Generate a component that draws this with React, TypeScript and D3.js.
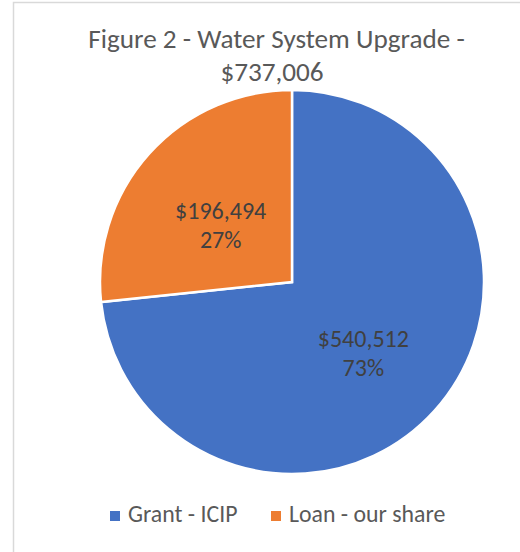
import React from 'react';
import * as d3 from 'd3';

const categories = ['Grant - ICIP', 'Loan - our share'];
const amounts = [540512, 196494];
const percentLabels = ['73%', '27%'];
const colors = ['#4472C4', '#ED7D31'];
const titleLines = ['Figure 2 - Water System Upgrade -', '$737,006'];

const W = 520;
const H = 552;
const cx = 292;
const cy = 282;
const radius = 192;
const font = 'Carlito, Calibri, "Open Sans", sans-serif';

export default function App() {
  const data = categories.map((name, i) => ({ name, value: amounts[i], pct: percentLabels[i], color: colors[i] }));
  const pie = d3.pie<any>().value(d => d.value).sort(null);
  const arcs = pie(data);
  const arc = d3.arc<any>().innerRadius(0).outerRadius(radius);
  const fmt = d3.format('$,');

  const legendX = [110, 271];

  return (
    <svg width={W} height={H} style={{ position: 'absolute', left: 0, top: 0 }} fontFamily={font}>
      <rect x={0} y={0} width={W} height={H} fill="white" />
      <rect x={13.5} y={2.5} width={W + 50} height={H + 50} fill="white" stroke="#d9d9d9" strokeWidth={1.5} />
      <g textAnchor="middle" fill="#595959" fontSize={27.2}>
        <text x={276.5} y={48}>{titleLines[0]}</text>
        <text x={272} y={81}>{titleLines[1]}</text>
      </g>
      <g transform={`translate(${cx},${cy})`}>
        {arcs.map(d => (
          <path key={d.data.name} d={arc(d) || ''} fill={d.data.color} stroke="white" strokeWidth={2.5} />
        ))}
        {arcs.map(d => {
          const [x, y] = arc.centroid(d);
          return (
            <text key={'l' + d.data.name} transform={`translate(${x},${y + 1})`} textAnchor="middle" fill="#404040" fontSize={24}>
              <tspan x={0} y={0}>{fmt(d.data.value)}</tspan>
              <tspan x={0} y={29}>{d.data.pct}</tspan>
            </text>
          );
        })}
      </g>
      <g fontSize={23.8} fill="#595959">
        {data.map((d, i) => (
          <g key={d.name} transform={`translate(${legendX[i]},511)`}>
            <rect x={0} y={0} width={10} height={10} fill={d.color} />
            <text x={18} y={11}>{d.name}</text>
          </g>
        ))}
      </g>
    </svg>
  );
}
